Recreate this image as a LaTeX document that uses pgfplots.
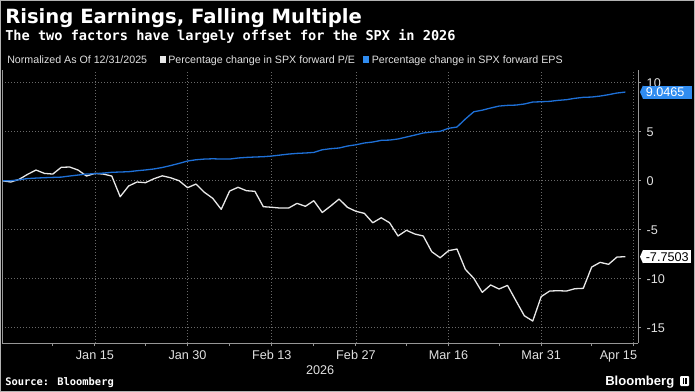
\documentclass[border=0pt]{standalone}
\usepackage{pgfplots}
\pgfplotsset{compat=1.18}
\usepackage{fontspec}
\setmainfont{Liberation Sans}
\newfontfamily\titlefont{DejaVu Sans}
\newfontfamily\monofont{DejaVu Sans Mono}
\definecolor{eps}{RGB}{30,112,215}
\definecolor{epsbox}{RGB}{48,140,240}
\definecolor{pe}{RGB}{232,232,232}
\definecolor{gridc}{RGB}{105,105,105}
\definecolor{axc}{RGB}{150,150,150}
\definecolor{tickc}{RGB}{225,225,225}
\newdimen\px \px=0.75pt
\begin{document}
\begin{tikzpicture}
\fill[black] (0,0) rectangle (695\px,-392\px);
\draw[gray!60, line width=1\px] (0.5\px,-0.5\px) rectangle (694.5\px,-391.5\px);
\node[anchor=base west, inner sep=0, text=white, font=\titlefont\bfseries\fontsize{14.7}{16}\selectfont] at (5\px,-23.3\px) {Rising Earnings, Falling Multiple};
\node[anchor=base west, inner sep=0, text=white, font=\monofont\bfseries\fontsize{10.2}{12}\selectfont] at (5\px,-40.7\px) {The two factors have largely offset for the SPX in 2026};
\node[anchor=base west, inner sep=0, text=tickc, font=\fontsize{8}{9}\selectfont] at (7\px,-63.3\px) {Normalized As Of 12/31/2025};
\fill[pe] (159.5\px,-56.5\px) rectangle (166\px,-63\px);
\node[anchor=base west, inner sep=0, text=tickc, font=\fontsize{8}{9}\selectfont] at (168\px,-63.3\px) {Percentage change in SPX forward P/E};
\fill[epsbox] (362.5\px,-56.5\px) rectangle (369\px,-63\px);
\node[anchor=base west, inner sep=0, text=tickc, font=\fontsize{8}{9}\selectfont] at (371.5\px,-63.3\px) {Percentage change in SPX forward EPS};
\node[anchor=base west, inner sep=0, text=white, font=\monofont\bfseries\fontsize{7.8}{9}\selectfont] at (5\px,-385.7\px) {Source: Bloomberg};
\node[anchor=base west, inner sep=0, text=white, font=\bfseries\fontsize{9.8}{11}\selectfont] at (605\px,-385.5\px) {Bloomberg};
\fill[white, rounded corners=1\px] (680\px,-376\px) rectangle (689\px,-386\px);
\fill[black] (682.5\px,-378\px) rectangle (684\px,-384\px);
\fill[black] (685\px,-378\px) rectangle (686.5\px,-384\px);
\begin{axis}[
  at={(2.3\px,-343\px)}, anchor=south west, scale only axis,
  width=635.7\px, height=273\px,
  xmin=0, xmax=75.5, ymin=-16.56, ymax=11.3,
  axis x line=bottom, axis y line=right,
  axis line style={axc, line width=1\px, -},
  xtick={11,22,32,42,53,64},
  xticklabels={Jan 15,Jan 30,Feb 13,Feb 27,Mar 16,Mar 31},
  extra x ticks={75}, extra x tick labels={Apr 15},
  extra x tick style={grid=major, xticklabel style={anchor=north east, xshift=8\px}},
  minor xtick={6,17,27,37,48,59,70},
  ytick={-15,-10,-5,0,5,10},
  grid=major,
  major grid style={gridc, line width=0.8\px, dash pattern=on 1\px off 2\px},
  tick style={axc, line width=1\px},
  major tick length=3\px, minor tick length=3\px,
  tick align=outside,
  ticklabel style={font=\fontsize{9.5}{11}\selectfont, text=tickc},
  xticklabel style={yshift=0\px},
  yticklabel style={anchor=west, xshift=1\px},
  /pgf/number format/assume math mode=true,
  xlabel={2026},
  xlabel style={font=\fontsize{9.5}{11}\selectfont, text=tickc, yshift=10\px},
  clip=false,
]
\addplot[pe, line width=1.3\px, line join=round] coordinates {
(0,0) (1,-0.13) (2,0.14) (3,0.65) (4,1.09) (5,0.75) (6,0.68) (7,1.37) (8,1.40) (9,1.09)
(10,0.48) (11,0.75) (12,0.68) (13,0.48) (14,-1.63) (15,-0.54) (16,-0.13) (17,-0.2) (18,0.2) (19,0.5)
(20,0.3) (21,0.0) (22,-0.71) (23,-0.34) (24,-1.18) (25,-1.8) (26,-2.92) (27,-1.05) (28,-0.67) (29,-1.02)
(30,-1.08) (31,-2.65) (32,-2.71) (33,-2.79) (34,-2.79) (35,-2.31) (36,-2.61) (37,-2.04) (38,-3.24) (39,-2.58)
(40,-1.87) (41,-2.72) (42,-3.12) (43,-3.33) (44,-4.29) (45,-3.78) (46,-4.29) (47,-5.64) (48,-5.06) (49,-5.44)
(50,-5.64) (51,-7.24) (52,-7.86) (53,-7.14) (54,-6.97) (55,-9.05) (56,-9.96) (57,-11.39) (58,-10.64) (59,-11.05)
(60,-10.68) (61,-12.24) (62,-13.78) (63,-14.32) (64,-11.83) (65,-11.26) (66,-11.22) (67,-11.26) (68,-11.02) (69,-10.98)
(70,-8.81) (71,-8.33) (72,-8.53) (73,-7.79) (74,-7.7503)
};
\addplot[eps, line width=1.3\px, line join=round] coordinates {
(0,0) (1,0) (2,0.1) (3,0.22) (4,0.27) (5,0.31) (6,0.34) (7,0.37) (8,0.48) (9,0.58)
(10,0.68) (11,0.72) (12,0.78) (13,0.86) (14,0.89) (15,0.92) (16,1.02) (17,1.10) (18,1.20) (19,1.35)
(20,1.55) (21,1.77) (22,2.01) (23,2.14) (24,2.21) (25,2.24) (26,2.21) (27,2.21) (28,2.32) (29,2.38)
(30,2.42) (31,2.45) (32,2.52) (33,2.62) (34,2.72) (35,2.79) (36,2.83) (37,2.89) (38,3.16) (39,3.27)
(40,3.34) (41,3.54) (42,3.67) (43,3.85) (44,3.95) (45,4.12) (46,4.15) (47,4.26) (48,4.46) (49,4.66)
(50,4.87) (51,4.97) (52,5.04) (53,5.35) (54,5.48) (55,6.30) (56,7.04) (57,7.2) (58,7.42) (59,7.62)
(60,7.69) (61,7.72) (62,7.83) (63,8.03) (64,8.06) (65,8.10) (66,8.20) (67,8.27) (68,8.41) (69,8.51)
(70,8.54) (71,8.64) (72,8.78) (73,8.95) (74,9.0465)
};
\draw[axc, line width=1\px] (rel axis cs:0,0) -- (rel axis cs:0,1);
\node[fill=epsbox, text=white, inner xsep=2.5\px, inner ysep=0pt, text width=44\px, minimum height=13\px, align=left, anchor=west, font=\fontsize{9.5}{11}\selectfont] (b1) at ([xshift=5\px]axis cs:75.5,9.0465) {9.0465};
\fill[epsbox] (b1.north west) -- ([xshift=-3\px]b1.west) -- (b1.south west) -- cycle;
\node[fill=white, text=black, inner xsep=2.5\px, inner ysep=0pt, text width=43\px, minimum height=13\px, align=left, anchor=west, font=\fontsize{9.5}{11}\selectfont] (b2) at ([xshift=5\px]axis cs:75.5,-7.7503) {-7.7503};
\fill[white] (b2.north west) -- ([xshift=-3\px]b2.west) -- (b2.south west) -- cycle;
\end{axis}
\pgfresetboundingbox
\useasboundingbox (0,0) rectangle (695\px,-392\px);
\end{tikzpicture}
\end{document}
